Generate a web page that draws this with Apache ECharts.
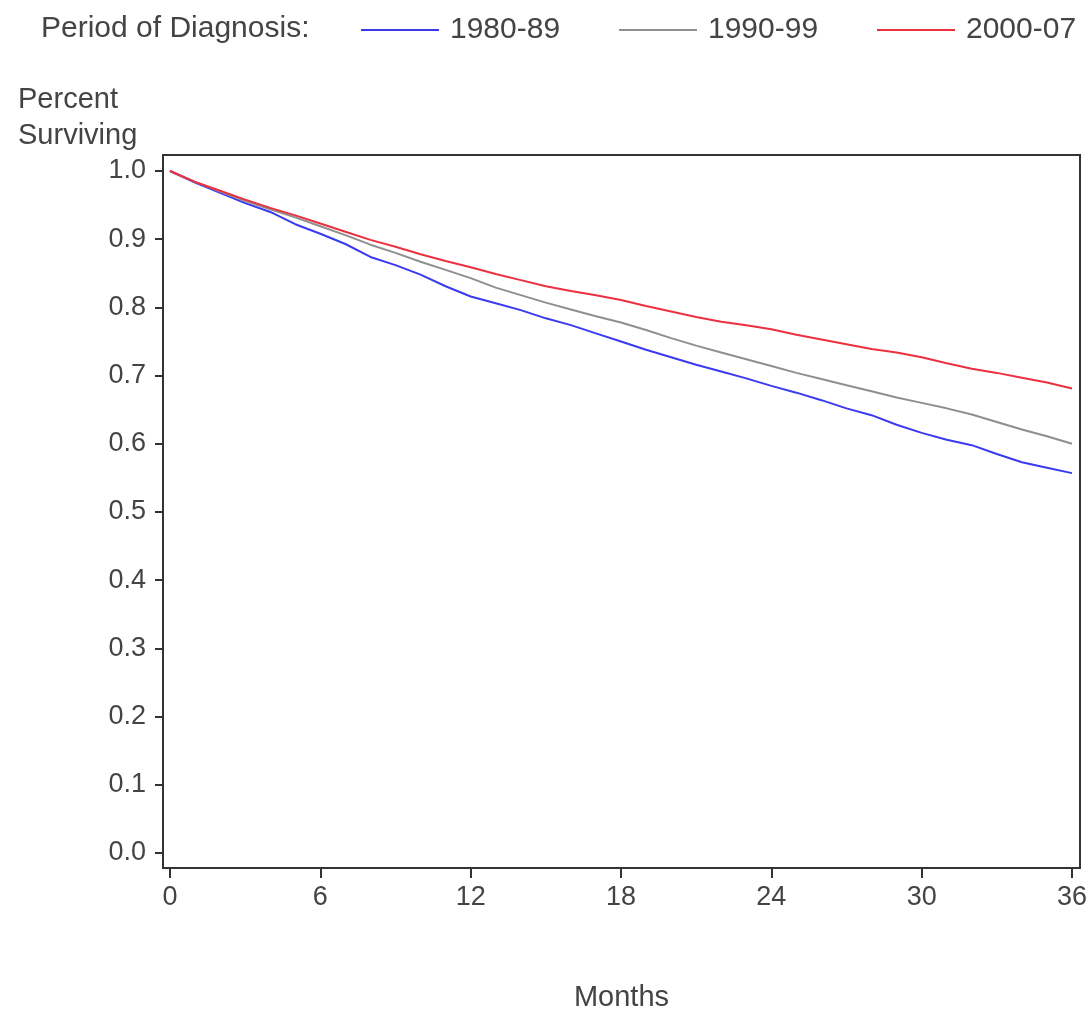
<!DOCTYPE html>
<html>
<head>
<meta charset="utf-8">
<script src="https://cdn.jsdelivr.net/npm/echarts@6/dist/echarts.min.js"></script>
<style>html,body{margin:0;padding:0;background:#fff}#c{width:1090px;height:1011px}</style>
</head>
<body>
<div id="c"></div>
<script>
var months = [0,1,2,3,4,5,6,7,8,9,10,11,12,13,14,15,16,17,18,19,20,21,22,23,24,25,26,27,28,29,30,31,32,33,34,35,36];
var s1980 = [1.000,0.983,0.968,0.953,0.940,0.922,0.908,0.893,0.874,0.862,0.848,0.831,0.816,0.806,0.796,0.784,0.774,0.762,0.750,0.738,0.727,0.716,0.706,0.696,0.685,0.675,0.664,0.652,0.642,0.628,0.616,0.606,0.598,0.585,0.573,0.565,0.557];
var s1990 = [1.000,0.984,0.970,0.956,0.944,0.932,0.919,0.906,0.892,0.880,0.867,0.855,0.843,0.829,0.818,0.807,0.797,0.787,0.778,0.767,0.755,0.744,0.734,0.724,0.714,0.704,0.695,0.686,0.677,0.668,0.660,0.652,0.643,0.632,0.621,0.611,0.600];
var s2000 = [1.000,0.984,0.971,0.958,0.946,0.935,0.923,0.911,0.899,0.889,0.878,0.868,0.859,0.849,0.840,0.831,0.824,0.818,0.811,0.802,0.794,0.786,0.779,0.774,0.768,0.760,0.753,0.746,0.739,0.734,0.727,0.718,0.710,0.704,0.697,0.690,0.681];
var seriesNames = ['1980-89','1990-99','2000-07'];
var xTicks = [0,6,12,18,24,30,36];
var yTicks = [0.0,0.1,0.2,0.3,0.4,0.5,0.6,0.7,0.8,0.9,1.0];

function pairs(vals){ return months.map(function(m,i){ return [m, vals[i]]; }); }

var FONT = 'Liberation Sans, Arial, sans-serif';
var TXT = '#444';
var COLORS = ['#3a3af0','#8f8f8f','#ec3040'];
var legendLefts = [361, 619, 877];
function mkLegend(i){
  return {left:legendLefts[i], top:15, padding:0, itemWidth:78, itemHeight:2, icon:'rect', data:[seriesNames[i]],
    textStyle:{fontFamily:FONT, fontSize:30, color:TXT, padding:[0,0,0,6]}};
}
var chart = echarts.init(document.getElementById('c'), null, {renderer:'canvas'});
chart.setOption({
  animation:false,
  backgroundColor:'#fff',
  title:{text:'Percent\nSurviving', left:13, top:77, textStyle:{fontFamily:FONT, fontSize:29, fontWeight:'normal', color:TXT, lineHeight:36}},
  graphic:[{type:'text', left:41, top:14, style:{text:'Period of Diagnosis:', font:'30px '+FONT, fill:TXT}}],
  legend:[mkLegend(0), mkLegend(1), mkLegend(2)],
  grid:{left:163, right:10, top:155, bottom:143, containLabel:false, outerBoundsMode:'none',
    show:true, borderColor:'#333', borderWidth:2, backgroundColor:'transparent'},
  xAxis:{type:'value', min:-0.279, max:36.319,
    name:'Months', nameLocation:'middle', nameGap:115, nameTextStyle:{fontFamily:FONT, fontSize:29, color:TXT},
    axisLine:{show:false, onZero:false},
    axisTick:{show:true, inside:false, length:10, customValues:xTicks, lineStyle:{color:'#333', width:2}},
    axisLabel:{margin:16, fontFamily:FONT, fontSize:27, color:TXT, customValues:xTicks, formatter:function(v){return String(v);}},
    splitLine:{show:false}},
  yAxis:{type:'value', min:-0.022, max:1.0235,
    axisLine:{show:false, onZero:false},
    axisTick:{show:true, inside:false, length:8, customValues:yTicks, lineStyle:{color:'#333', width:2}},
    axisLabel:{margin:17, fontFamily:FONT, fontSize:27, color:TXT, customValues:yTicks, formatter:function(v){return v.toFixed(1);}},
    splitLine:{show:false}},
  series:[
    {name:seriesNames[0], type:'line', data:pairs(s1980), symbol:'none', lineStyle:{color:COLORS[0], width:2}, itemStyle:{color:COLORS[0]}},
    {name:seriesNames[1], type:'line', data:pairs(s1990), symbol:'none', lineStyle:{color:COLORS[1], width:2}, itemStyle:{color:COLORS[1]}},
    {name:seriesNames[2], type:'line', data:pairs(s2000), symbol:'none', lineStyle:{color:COLORS[2], width:2}, itemStyle:{color:COLORS[2]}}
  ]
});
</script>
</body>
</html>
